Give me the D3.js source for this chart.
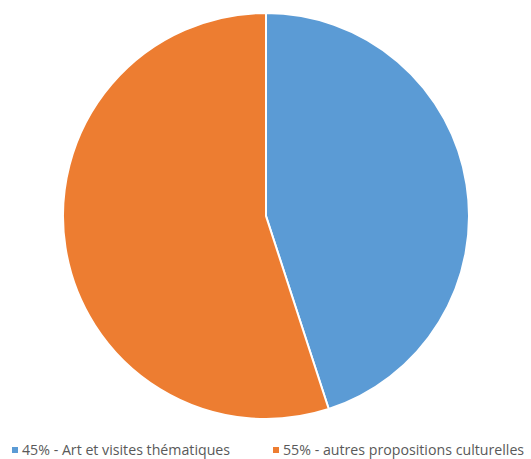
<!DOCTYPE html>
<html>
<head>
<meta charset="utf-8">
<script src="https://cdn.jsdelivr.net/npm/d3@7"></script>
<style>
  body { margin: 0; background: #fff; }
</style>
</head>
<body>
<div id="chart"></div>
<script>
var labels = ["45% - Art et visites thématiques", "55% - autres propositions culturelles"];
var values = [45, 55];
var colors = ["#5B9BD5", "#ED7D31"];
var legendX = [12, 273];

var width = 531, height = 459;
var cx = 266, cy = 216, radius = 203;

var svg = d3.select("#chart").append("svg")
    .attr("width", width)
    .attr("height", height);

var pie = d3.pie().sort(null).value(function(d) { return d; });
var arc = d3.arc().innerRadius(0).outerRadius(radius);

var g = svg.append("g")
    .attr("transform", "translate(" + cx + "," + cy + ")");

g.selectAll("path")
    .data(pie(values))
    .enter().append("path")
    .attr("d", arc)
    .attr("fill", function(d, i) { return colors[i]; })
    .attr("stroke", "#fff")
    .attr("stroke-width", 2);

var legend = svg.append("g").selectAll("g")
    .data(labels)
    .enter().append("g")
    .attr("transform", function(d, i) { return "translate(" + legendX[i] + ",450)"; });

legend.append("rect")
    .attr("x", 0).attr("y", -3)
    .attr("width", 6).attr("height", 6)
    .attr("fill", function(d, i) { return colors[i]; });

legend.append("text")
    .attr("x", 10).attr("y", 5)
    .attr("font-family", "Open Sans, sans-serif")
    .attr("font-size", 14.2)
    .attr("fill", "#595959")
    .text(function(d) { return d; });
</script>
</body>
</html>
